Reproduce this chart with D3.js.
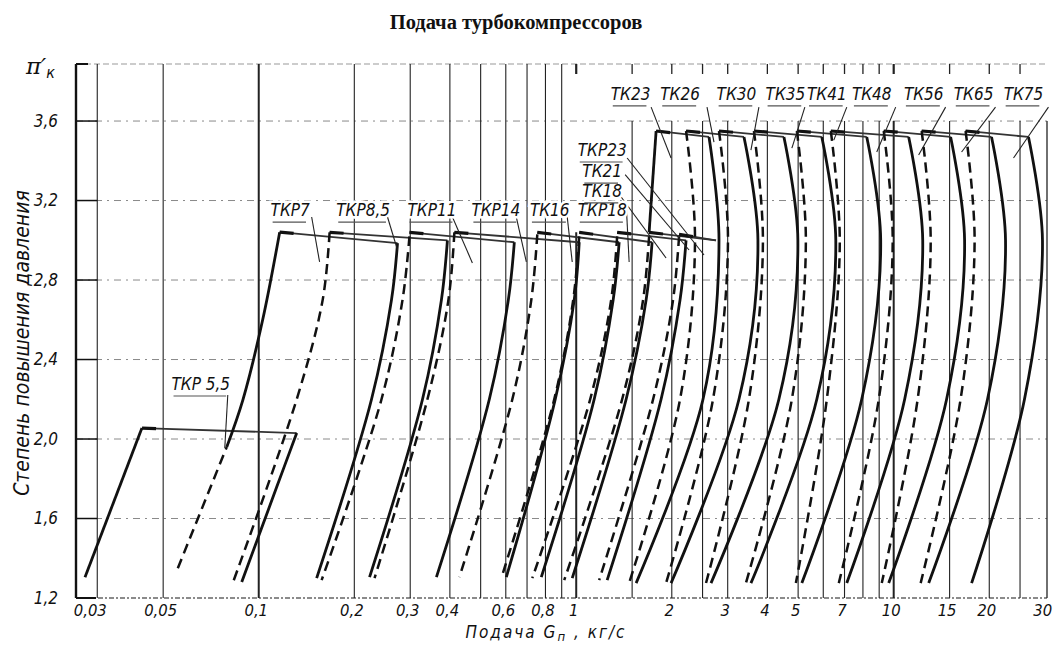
<!DOCTYPE html>
<html><head><meta charset="utf-8">
<script src="https://cdn.jsdelivr.net/npm/d3@7"></script>
<style>
body{margin:0;background:#fff}
svg{display:block;background:#fff}
.lbl{font-family:"Liberation Sans Narrow","DejaVu Sans Condensed","Liberation Sans",sans-serif;font-style:italic}
</style></head>
<body><svg id="c" width="1053" height="646"></svg>
<script>
// ---------- data ----------
const chartTitle = "Подача турбокомпрессоров";
const yTitle = "Степень повышения давления";
const xTickValues = [0.03,0.05,0.1,0.2,0.3,0.4,0.6,0.8,1,2,3,4,5,7,10,15,20,30];
const xTickLabels = ["0,03","0,05","0,1","0,2","0,3","0,4","0,6","0,8","1","2","3","4","5","7","10","15","20","30"];
const yTickValues = [1.2,1.6,2.0,2.4,2.8,3.2,3.6];
const yTickLabels = ["1,2","1,6","2,0","2,4","2,8","3,2","3,6"];
const gridFull  = [0.031,0.05,0.1,0.2,0.3,0.4,0.5,0.6,0.7,0.8,0.9];
const gridLower = [1,1.5,2,2.5,3,4,5,6,7,8,9,10,15,20,25];
const gridThick = [0.1,1,10];

// solid surge (left) boundaries  [G kg/s, pi_k]
const surgeSolid = [
  [[0.02836,1.305],[0.04286,2.055]],                                  // ТКР 5,5
  [[0.0793,1.96],[0.0891,2.196],[0.1029,2.60],[0.1164,3.041]],         // ТКР7 upper
  [[1.6965,3.04],[1.785,3.55]]                                         // ТК23 edge
];
// dashed surge boundaries
const surgeDashed = [
  [[0.0556,1.35],[0.0793,1.96]],                                       // ТКР7 lower
  [[0.1672,3.04],[0.1590,2.70],[0.1317,2.20],[0.0828,1.275]],          // ТКР8,5
  [[0.2984,3.02],[0.2837,2.70],[0.2436,2.20],[0.1578,1.29]],           // ТКР11
  [[0.4133,3.04],[0.3958,2.70],[0.3399,2.20],[0.2316,1.30]],           // ТКР14
  [[0.7541,3.03],[0.7220,2.70],[0.6292,2.20],[0.4285,1.305]],          // ТК16
  [[1.022,3.02],[0.9785,2.70],[0.8527,2.20],[0.5808,1.30]],            // ТКР18
  [[1.3457,3.02],[1.2886,2.70],[1.1066,2.20],[0.7272,1.30]],           // ТК18
  [[1.6965,3.02],[1.6242,2.70],[1.3954,2.20],[0.9168,1.29]],           // ТК21
  [[2.1086,3.02],[2.0184,2.70],[1.7465,2.20],[1.1812,1.29]],           // ТКР23
  [[2.2181,3.55],[2.3668,3.0],[2.1235,2.2],[1.4678,1.275]],            // ТК26
  [[2.8166,3.55],[3.0061,3.0],[2.6970,2.2],[1.9187,1.275]],            // ТК30
  [[3.6286,3.55],[3.8732,3.0],[3.4995,2.2],[2.5635,1.275]],            // ТК35
  [[4.9545,3.55],[5.2885,3.0],[4.7780,2.2],[3.4242,1.275]],            // ТК41
  [[6.3386,3.55],[6.7637,3.0],[6.1569,2.2],[4.9189,1.275]],            // ТК48
  [[9.302,3.55],[9.928,3.0],[8.974,2.2],[6.7148,1.275]],               // ТК56
  [[12.248,3.55],[13.078,3.0],[11.897,2.2],[9.1713,1.275]],            // ТК65
  [[16.844,3.55],[17.983,3.0],[16.244,2.2],[12.160,1.275]]             // ТК75
];
// solid choke (right) boundaries
const chokeSolid = [
  [[0.1317,2.03],[0.1139,1.758],[0.0884,1.28]],                        // ТКР 5,5
  [[0.2736,2.986],[0.2619,2.70],[0.2266,2.20],[0.1522,1.30]],          // ТКР7
  [[0.3929,3.00],[0.3762,2.70],[0.3280,2.20],[0.2234,1.305]],          // ТКР8,5
  [[0.6383,2.99],[0.6112,2.70],[0.5325,2.20],[0.3628,1.305]],          // ТКР11
  [[1.022,2.99],[0.9856,2.70],[0.8590,2.20],[0.6023,1.305]],           // ТКР14
  [[1.3654,2.99],[1.3074,2.70],[1.1393,2.20],[0.7762,1.305]],          // ТК16
  [[1.7338,2.99],[1.6603,2.70],[1.4363,2.20],[0.9714,1.30]],           // ТКР18
  [[2.2181,3.00],[2.1235,2.70],[1.8506,2.20],[1.2516,1.29]],           // ТК18
  [[2.6196,3.52],[2.8166,3.0],[2.5083,2.2],[1.5443,1.275]],            // ТК23
  [[3.3757,3.52],[3.7354,3.0],[3.2552,2.2],[1.9895,1.275]],            // ТК26
  [[4.5102,3.52],[4.9907,3.0],[4.3487,2.2],[2.6578,1.275]],            // ТК30
  [[5.9371,3.52],[6.5706,3.0],[5.7259,2.2],[3.5507,1.275]],            // ТК35
  [[8.2249,3.52],[9.10,3.0],[7.9318,2.2],[5.1368,1.275]],              // ТК41
  [[11.148,3.52],[12.343,3.0],[10.829,2.2],[7.1155,1.275]],            // ТК48
  [[15.111,3.52],[16.722,3.0],[14.678,2.2],[9.645,1.275]],             // ТК56
  [[20.330,3.52],[22.503,3.0],[19.750,2.2],[12.890,1.275]],            // ТК65
  [[26.577,3.52],[29.417,3.0],[25.819,2.2],[17.596,1.275]]             // ТК75
];
// top (max pressure) lines
const topLines = [
  [[0.0429,2.055],[0.1317,2.03]],
  [[0.1164,3.041],[0.2736,2.986]],
  [[0.1672,3.04],[0.3929,3.00]],
  [[0.2984,3.04],[0.6383,2.99]],
  [[0.4133,3.04],[1.022,2.99]],
  [[0.7541,3.04],[1.3654,2.99]],
  [[1.022,3.04],[1.7338,2.99]],
  [[1.3457,3.04],[2.2181,3.00]],
  [[1.6965,3.04],[2.756,3.00]],
  [[2.1086,3.03],[2.756,3.00]],
  [[1.785,3.55],[2.6196,3.52]],
  [[2.2181,3.55],[3.3757,3.52]],
  [[2.8166,3.55],[4.5102,3.52]],
  [[3.6286,3.55],[5.9371,3.52]],
  [[4.9545,3.55],[8.2249,3.52]],
  [[6.3386,3.55],[11.148,3.52]],
  [[9.302,3.55],[15.111,3.52]],
  [[12.248,3.55],[20.330,3.52]],
  [[16.844,3.55],[26.577,3.52]]
];
const labelNames = ["ТКР 5,5","ТКР7","ТКР8,5","ТКР11","ТКР14","ТК16","ТКР18","ТК18","ТК21","ТКР23",
  "ТК23","ТК26","ТК30","ТК35","ТК41","ТК48","ТК56","ТК65","ТК75"];
const labelAt = [[0.0657,2.2465],[0.12563,3.122],[0.21317,3.122],[0.35129,3.122],[0.55819,3.122],[0.8254,3.122],
  [1.2071,3.122],[1.2071,3.218],[1.2071,3.318],[1.2071,3.424],
  [1.4835,3.706],[2.1235,3.706],[3.1965,3.706],[4.5595,3.706],[6.1569,3.706],[8.5276,3.706],[12.433,3.706],[17.853,3.706],[25.633,3.706]];
const leaders = [
  [[0.07988,2.221],[0.07816,1.955]],
  [[0.14678,3.117],[0.15547,2.891]],
  [[0.25443,3.117],[0.2736,2.951]],
  [[0.40743,3.117],[0.47094,2.886]],
  [[0.64755,3.117],[0.69647,2.891]],
  [[0.9369,3.117],[0.9714,2.891]],
  [[1.4363,3.187],[1.4678,2.891]],
  [[1.3855,3.218],[1.9187,2.911]],
  [[1.4260,3.33],[2.2668,2.951]],
  [[1.4468,3.414],[2.5267,2.926]],
  [[1.7215,3.670],[1.9895,3.414]],
  [[2.582,3.670],[2.7164,3.494]],
  [[3.7625,3.670],[3.5507,3.454]],
  [[5.2503,3.670],[4.778,3.464]],
  [[7.1154,3.670],[6.476,3.504]],
  [[10.146,3.670],[8.843,3.444]],
  [[14.572,3.670],[11.984,3.429]],
  [[20.927,3.670],[16.363,3.444]],
  [[30.723,3.670],[23.845,3.414]]
];

// ---------- drawing ----------
const svg = d3.select("#c");
const x = d3.scaleLog().domain([0.02657, 30.4]).range([76, 1047]);
const y = d3.scaleLinear().domain([1.2, 3.887]).range([598, 64]);
const [xL, xR] = x.range();
const [yB, yT] = y.range();

// title
svg.append("text").attr("x", 516).attr("y", 29).attr("text-anchor","middle")
  .attr("font-family","'Liberation Serif','DejaVu Serif',serif").attr("font-weight","bold")
  .attr("font-size",20.5).attr("fill","#111").text(chartTitle);

const g = svg.append("g");

// horizontal grid
g.selectAll(".hg").data(yTickValues.slice(1)).join("line")
  .attr("x1", xL).attr("x2", xR).attr("y1", d=>y(d)).attr("y2", d=>y(d))
  .attr("stroke","#8a8a8a").attr("stroke-width",1).attr("stroke-dasharray","7,5,2,5");
// bottom + top border (dotted)
g.append("line").attr("x1",xL).attr("x2",xR).attr("y1",yB).attr("y2",yB)
  .attr("stroke","#666").attr("stroke-width",1.3).attr("stroke-dasharray","5,2,2,2");
g.append("line").attr("x1",xL).attr("x2",xR).attr("y1",yT).attr("y2",yT)
  .attr("stroke","#999").attr("stroke-width",1).attr("stroke-dasharray","6,3");

// vertical grid
g.selectAll(".vf").data(gridFull).join("line")
  .attr("x1", d=>x(d)).attr("x2", d=>x(d)).attr("y1", yT).attr("y2", yB)
  .attr("stroke","#222").attr("stroke-width", d=>gridThick.includes(d)?2:1.1);
g.selectAll(".vl").data(gridLower).join("line")
  .attr("x1", d=>x(d)).attr("x2", d=>x(d)).attr("y1", d=>y(d===1?3.04:3.6)).attr("y2", yB)
  .attr("stroke","#222").attr("stroke-width", d=>gridThick.includes(d)?2:1.1);
g.selectAll(".vt").data(gridLower).join("line")
  .attr("x1", d=>x(d)).attr("x2", d=>x(d)).attr("y1", yT).attr("y2", yT+10)
  .attr("stroke","#222").attr("stroke-width", d=>gridThick.includes(d)?2.2:1.3);

// frame
g.append("line").attr("x1",xL).attr("x2",xL).attr("y1",yT).attr("y2",yB).attr("stroke","#111").attr("stroke-width",2.4);
g.append("line").attr("x1",xR).attr("x2",xR).attr("y1",y(3.6)).attr("y2",yB).attr("stroke","#222").attr("stroke-width",1.3);
g.append("line").attr("x1",xL).attr("x2",xL+12).attr("y1",yT).attr("y2",yT).attr("stroke","#111").attr("stroke-width",2);
g.append("line").attr("x1",xL).attr("x2",xL+20).attr("y1",yB).attr("y2",yB).attr("stroke","#111").attr("stroke-width",2);
// y ticks (solid stubs)
g.selectAll(".yt").data(yTickValues.slice(1)).join("line")
  .attr("x1", xL).attr("x2", x(0.031)).attr("y1", d=>y(d)).attr("y2", d=>y(d))
  .attr("stroke","#111").attr("stroke-width",1.5);

// curves
const line = d3.line().x(d=>x(d[0])).y(d=>y(d[1])).curve(d3.curveCatmullRom.alpha(0.5));
const straight = d3.line().x(d=>x(d[0])).y(d=>y(d[1]));

g.selectAll(".top").data(topLines).join("path")
  .attr("d", straight).attr("fill","none").attr("stroke","#333").attr("stroke-width",1.8);
g.selectAll(".corner").data(topLines).join("path")
  .attr("d", d=>{const a=[x(d[0][0]),y(d[0][1])], b=[x(d[1][0]),y(d[1][1])];
     const L=Math.hypot(b[0]-a[0],b[1]-a[1]); const t=Math.min(14/L,1);
     return `M${a[0]},${a[1]}L${a[0]+(b[0]-a[0])*t},${a[1]+(b[1]-a[1])*t}`;})
  .attr("stroke","#111").attr("stroke-width",3.2).attr("fill","none");

g.selectAll(".sd").data(surgeDashed).join("path")
  .attr("d", line).attr("fill","none").attr("stroke","#111").attr("stroke-width",2.5)
  .attr("stroke-dasharray","10,6");
g.selectAll(".ss").data(surgeSolid).join("path")
  .attr("d", line).attr("fill","none").attr("stroke","#111").attr("stroke-width",2.8);
g.selectAll(".cs").data(chokeSolid).join("path")
  .attr("d", line).attr("fill","none").attr("stroke","#111").attr("stroke-width",2.8);

// leaders
g.selectAll(".ld").data(leaders).join("path")
  .attr("d", straight).attr("fill","none").attr("stroke","#222").attr("stroke-width",1.1);

// labels
const lg = g.selectAll(".lab").data(labelNames).join("text")
  .attr("class","lbl").attr("x",(d,i)=>x(labelAt[i][0])).attr("y",(d,i)=>y(labelAt[i][1]))
  .attr("text-anchor","middle").attr("font-size",17).attr("fill","#111")
  .attr("stroke","#fff").attr("stroke-width",5).attr("paint-order","stroke").text(d=>d);
lg.each(function(){
  const b=this.getBBox();
  g.append("line").attr("x1",b.x+2).attr("x2",b.x+b.width-4).attr("y1",b.y+b.height+2).attr("y2",b.y+b.height+2)
   .attr("stroke","#555").attr("stroke-width",1.2);
});

// axes
const xAxis = d3.axisBottom(x).tickValues(xTickValues).tickFormat((d,i)=>xTickLabels[i]).tickSize(0).tickPadding(6);
const xa = svg.append("g").attr("transform",`translate(0,${yB})`).call(xAxis);
xa.select(".domain").remove();
xa.selectAll("text").attr("class","lbl").attr("font-size",16.5).attr("fill","#111").attr("dx","-3");

const yAxis = d3.axisLeft(y).tickValues(yTickValues).tickFormat((d,i)=>yTickLabels[i]).tickSize(0).tickPadding(18);
const ya = svg.append("g").attr("transform",`translate(${xL},0)`).call(yAxis);
ya.select(".domain").remove();
ya.selectAll("text").attr("class","lbl").attr("font-size",17).attr("fill","#111");

// axis titles
const xt = svg.append("text").attr("class","lbl").attr("x",546).attr("y",638).attr("text-anchor","middle")
  .attr("font-size",17).attr("letter-spacing",2).attr("fill","#111");
xt.append("tspan").text("Подача  G");
xt.append("tspan").attr("font-size",13).attr("dy",3).text("п");
xt.append("tspan").attr("dy",-3).text(" , кг/с");

svg.append("text").attr("class","lbl").attr("transform","translate(29,343) rotate(-90)")
  .attr("text-anchor","middle").attr("font-size",21).attr("fill","#111").text(yTitle);

const pk = svg.append("text").attr("x",26).attr("y",74).attr("font-family","'DejaVu Serif',serif")
  .attr("font-style","italic").attr("font-size",23).attr("fill","#111");
pk.append("tspan").text("π′");
pk.append("tspan").attr("font-size",16).attr("dy",4).attr("class","lbl").text("к");
</script>
</body></html>
